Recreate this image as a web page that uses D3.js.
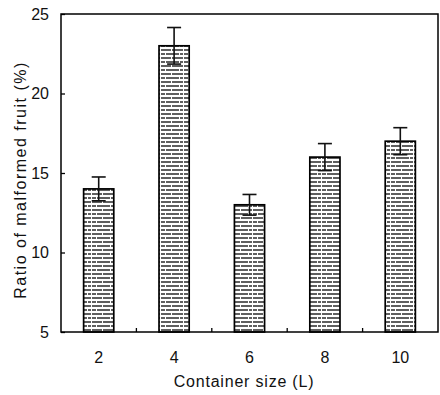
<!DOCTYPE html>
<html>
<head>
<meta charset="utf-8">
<script src="https://cdn.jsdelivr.net/npm/d3@7"></script>
<style>
  body { margin: 0; background: #fff; }
  text { font-family: "Liberation Sans", Arial, sans-serif; fill: #111; }
</style>
</head>
<body>
<svg id="chart" width="440" height="395"></svg>
<script>
// Data
var sizes = ["2", "4", "6", "8", "10"];
var ratios = [14, 23, 13, 16, 17];
var errors = [0.75, 1.15, 0.65, 0.85, 0.85];
var yTicks = [5, 10, 15, 20, 25];

var svg = d3.select("#chart");
var margin = {left: 61, right: 2, top: 14, bottom: 63};
var W = 440, H = 395;

var x = d3.scaleBand()
    .domain(sizes)
    .range([margin.left, W - margin.right])
    .paddingInner(0.6)
    .paddingOuter(0.3);
var y = d3.scaleLinear()
    .domain([5, 25])
    .range([H - margin.bottom, margin.top]);

// Horizontal hatch fill (slightly broken lines, offset per row)
var defs = svg.append("defs");
var pat = defs.append("pattern")
    .attr("id", "hatch")
    .attr("patternUnits", "userSpaceOnUse")
    .attr("width", 23)
    .attr("height", 8);
pat.append("rect").attr("width", 23).attr("height", 8).attr("fill", "#fff");
pat.append("line")
    .attr("x1", 0).attr("x2", 23).attr("y1", 2).attr("y2", 2)
    .attr("stroke", "#2a2a2a").attr("stroke-width", 1.4)
    .attr("stroke-dasharray", "10,1,11,1");
pat.append("line")
    .attr("x1", 0).attr("x2", 23).attr("y1", 6).attr("y2", 6)
    .attr("stroke", "#2a2a2a").attr("stroke-width", 1.4)
    .attr("stroke-dasharray", "4,1,13,1,3,1");

var data = sizes.map(function(s, i) {
    return {size: s, value: ratios[i], err: errors[i]};
});

// Bars
svg.selectAll("rect.bar")
    .data(data)
    .enter().append("rect")
    .attr("class", "bar")
    .attr("x", function(d) { return x(d.size); })
    .attr("width", x.bandwidth())
    .attr("y", function(d) { return y(d.value); })
    .attr("height", function(d) { return y(5) - y(d.value); })
    .attr("fill", "url(#hatch)")
    .attr("stroke", "#000")
    .attr("stroke-width", 1.7);

// Error bars
var eb = svg.selectAll("g.err")
    .data(data)
    .enter().append("g")
    .attr("class", "err")
    .attr("stroke", "#111")
    .attr("stroke-width", 1.6);
eb.append("line")
    .attr("x1", function(d) { return x(d.size) + x.bandwidth() / 2; })
    .attr("x2", function(d) { return x(d.size) + x.bandwidth() / 2; })
    .attr("y1", function(d) { return y(d.value + d.err); })
    .attr("y2", function(d) { return y(d.value - d.err); });
eb.selectAll("line.cap")
    .data(function(d) { return [[d.size, d.value + d.err], [d.size, d.value - d.err]]; })
    .enter().append("line")
    .attr("class", "cap")
    .attr("x1", function(c) { return x(c[0]) + x.bandwidth() / 2 - 7; })
    .attr("x2", function(c) { return x(c[0]) + x.bandwidth() / 2 + 7; })
    .attr("y1", function(c) { return y(c[1]); })
    .attr("y2", function(c) { return y(c[1]); });

// Frame
svg.append("rect")
    .attr("x", margin.left)
    .attr("y", margin.top)
    .attr("width", W - margin.right - margin.left)
    .attr("height", y(5) - margin.top)
    .attr("fill", "none")
    .attr("stroke", "#000")
    .attr("stroke-width", 1.5);

// Y axis (ticks inward)
var yAxis = svg.append("g")
    .attr("transform", "translate(" + margin.left + ",0)")
    .call(d3.axisLeft(y).tickValues(yTicks).tickSize(-4).tickPadding(12));
yAxis.select(".domain").remove();
yAxis.selectAll("line").attr("stroke", "#000").attr("stroke-width", 1.3);
yAxis.selectAll("text").style("font-size", "16px").attr("fill", "#111");

// X axis: category labels and inward ticks between bars
var xAxis = svg.append("g")
    .attr("transform", "translate(0," + y(5) + ")")
    .call(d3.axisBottom(x).tickSize(0).tickPadding(20));
xAxis.select(".domain").remove();
xAxis.selectAll("text").style("font-size", "16px").attr("fill", "#111");

var step = x.step();
svg.selectAll("line.xsep")
    .data(sizes.slice(1))
    .enter().append("line")
    .attr("class", "xsep")
    .attr("x1", function(s) { return x(s) + x.bandwidth() / 2 - step / 2; })
    .attr("x2", function(s) { return x(s) + x.bandwidth() / 2 - step / 2; })
    .attr("y1", y(5))
    .attr("y2", y(5) - 4)
    .attr("stroke", "#000")
    .attr("stroke-width", 1.3);

// Axis titles
svg.append("text")
    .attr("x", 244)
    .attr("y", 387)
    .attr("text-anchor", "middle")
    .style("font-size", "16px")
    .style("letter-spacing", "0.8px")
    .text("Container size (L)");
svg.append("text")
    .attr("transform", "translate(26,180) rotate(-90)")
    .attr("text-anchor", "middle")
    .style("font-size", "16px")
    .style("letter-spacing", "1.5px")
    .text("Ratio of malformed fruit (%)");
</script>
</body>
</html>
